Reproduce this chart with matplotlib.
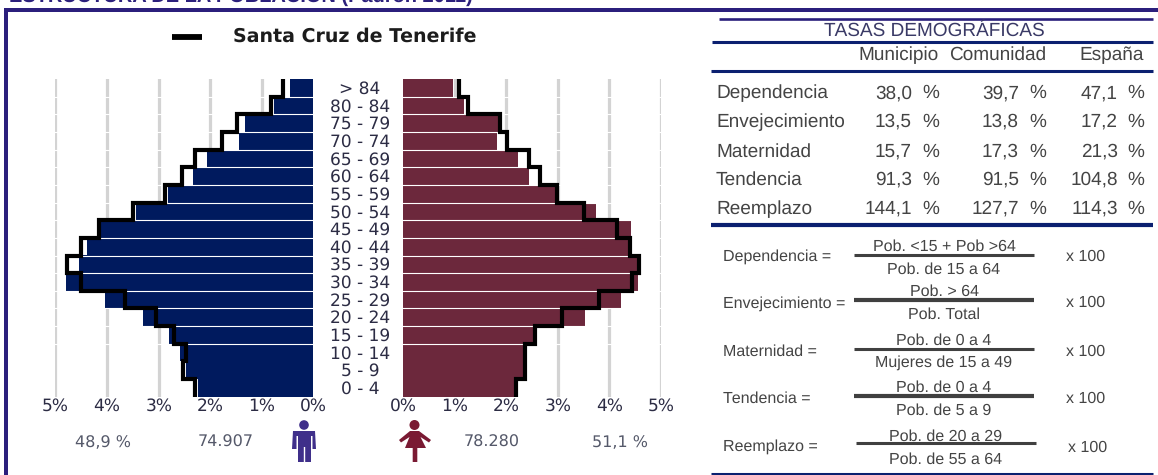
import matplotlib
matplotlib.use("Agg")
import matplotlib.pyplot as plt
from matplotlib.patches import Polygon, Circle, Rectangle

plt.rcParams['text.hinting'] = 'no_hinting'
plt.rcParams['text.hinting_factor'] = 1

W, H = 1158, 475
SANS = ['Liberation Sans', 'DejaVu Sans']
VERD = ['DejaVu Sans']

# ---------- data ----------
age_labels = ['0 - 4', '5 - 9', '10 - 14', '15 - 19', '20 - 24', '25 - 29', '30 - 34', '35 - 39',
              '40 - 44', '45 - 49', '50 - 54', '55 - 59', '60 - 64', '65 - 69', '70 - 74',
              '75 - 79', '80 - 84', '> 84']
male_muni = [2.24, 2.47, 2.59, 2.80, 3.31, 4.04, 4.80, 4.55, 4.38, 4.12, 3.44, 2.82, 2.33, 2.06, 1.45, 1.33, 0.77, 0.46]
male_ref = [2.29, 2.52, 2.47, 2.70, 3.05, 3.65, 4.51, 4.78, 4.51, 4.15, 3.50, 2.87, 2.55, 2.30, 1.77, 1.48, 0.83, 0.59]
female_muni = [2.15, 2.33, 2.34, 2.52, 3.53, 4.23, 4.56, 4.53, 4.36, 4.41, 3.74, 2.98, 2.44, 2.23, 1.81, 1.84, 1.18, 0.97]
female_ref = [2.19, 2.37, 2.37, 2.55, 3.07, 3.79, 4.44, 4.57, 4.39, 4.15, 3.51, 2.98, 2.65, 2.43, 2.01, 1.88, 1.25, 1.08]
pct_ticks = [0, 1, 2, 3, 4, 5]
pct_labels = ['0%', '1%', '2%', '3%', '4%', '5%']

legend_name = 'Santa Cruz de Tenerife'
title_text = 'ESTRUCTURA DE LA POBLACIÓN (Padrón 2011)'
male_pct, male_count = '48,9 %', '74.907'
female_pct, female_count = '51,1 %', '78.280'

table_title = 'TASAS DEMOGRÁFICAS'
table_cols = ['Municipio', 'Comunidad', 'España']
table_rows = ['Dependencia', 'Envejecimiento', 'Maternidad', 'Tendencia', 'Reemplazo']
muni_rates = ['38,0', '13,5', '15,7', '91,3', '144,1']
comu_rates = ['39,7', '13,8', '17,3', '91,5', '127,7']
espa_rates = ['47,1', '17,2', '21,3', '104,8', '114,3']

formula_names = ['Dependencia =', 'Envejecimiento =', 'Maternidad =', 'Tendencia =', 'Reemplazo =']
formula_nums = ['Pob. <15 + Pob >64', 'Pob. > 64', 'Pob. de 0 a 4', 'Pob. de 0 a 4', 'Pob. de 20 a 29']
formula_dens = ['Pob. de 15 a 64', 'Pob. Total', 'Mujeres de 15 a 49', 'Pob. de 5 a 9', 'Pob. de 55 a 64']

# ---------- colours ----------
NAVY = '#001a5e'
WINE = '#6c283c'
GRID = '#d3d3d3'
FRAME = '#2b1f7c'
TXT = '#444444'
AXT = '#2c2c44'

fig = plt.figure(figsize=(W / 100, H / 100), dpi=100, facecolor='white')

# full-figure layout axes in pixels, y down
bg = fig.add_axes([0, 0, 1, 1], zorder=0)
bg.set_xlim(0, W); bg.set_ylim(H, 0); bg.axis('off')

TOP, BOTTOM = 79.0, 396.7


def pyramid(x0, x1, muni, ref, color, invert):
    ax = fig.add_axes([x0 / W, 1 - BOTTOM / H, (x1 - x0) / W, (BOTTOM - TOP) / H], zorder=2)
    ax.patch.set_alpha(0)
    pos = list(range(len(muni)))
    ax.set_xlim(5, 0) if invert else ax.set_xlim(0, 5)
    ax.set_ylim(-0.5, len(muni) - 0.5)
    for t in pct_ticks:
        ax.axvline(t, color=GRID, lw=2.3, zorder=1)
    ax.barh(pos, muni, height=1.0, color=color, lw=0, zorder=2)
    for k in pos[2:-1]:
        ax.axhline(k + 0.5, color='white', lw=0.8, zorder=3)
    # stepped outline
    xs, ys = [], []
    for k, v in enumerate(ref):
        xs += [v, v]
        ys += [k - 0.5, k + 0.5]
    ax.plot(xs, ys, color='black', lw=3.0, solid_joinstyle='miter', solid_capstyle='butt', zorder=4, clip_on=False)
    ax.set_xticks(pct_ticks, pct_labels, fontsize=12, color=AXT, family=VERD)
    ax.set_yticks([])
    ax.tick_params(axis='x', length=0, pad=1)
    for s in ax.spines.values():
        s.set_visible(False)
    return ax


ax_m = pyramid(55.5, 313.5, male_muni, male_ref, NAVY, True)
ax_f = pyramid(403.3, 661, female_muni, female_ref, WINE, False)

# age labels in the central gutter
for k, lab in enumerate(age_labels):
    y = BOTTOM - (k + 0.5) * (BOTTOM - TOP) / len(age_labels) + 5.9
    bg.text(360, y, lab, ha='center', va='baseline', fontsize=12, color=AXT, family=VERD)

# frame and clipped page title
bg.add_patch(Rectangle((4, 8), W, 4, color=FRAME, lw=0))
bg.add_patch(Rectangle((4, 8), 4.3, H, color=FRAME, lw=0))
bg.text(9, 2, title_text, ha='left', va='baseline', fontsize=14.6, weight='bold', color=FRAME, family=SANS)

# legend
bg.plot([172, 201.5], [36.5, 36.5], color='black', lw=4.2, solid_capstyle='butt')
bg.text(233, 42, legend_name, ha='left', va='baseline', fontsize=13.8, weight='bold', color='#1c1c1c', family=VERD)

# totals
for x, s in [(103, male_pct), (226, male_count), (492, female_count), (620, female_pct)]:
    bg.text(x, 446.7, s, ha='center', va='baseline', fontsize=11.4, color='#55596a', family=VERD)

# man icon
MAN = '#3f2f8a'
bg.add_patch(Circle((304, 425), 4.8, color=MAN, lw=0))
bg.add_patch(Polygon([(293, 431), (315, 431), (316, 449), (312.5, 449), (312.5, 436), (311, 436), (311, 462),
                      (305.2, 462), (305.2, 447), (303.8, 447), (303.8, 462), (298, 462), (298, 436),
                      (296.5, 436), (296.5, 449), (292, 449)], color=MAN, lw=0))
# woman icon
WOM = '#7a1a33'
bg.add_patch(Circle((414.5, 425), 5, color=WOM, lw=0))
bg.add_patch(Polygon([(410, 431), (419, 431), (431, 440), (429, 442.5), (420.5, 437), (426, 448), (417.3, 448), (417.3, 462),
                      (412.7, 462), (412.7, 448), (405, 448), (409.5, 437), (401, 442.5), (399, 440)], color=WOM, lw=0))

# table rules
for x0, y, lw, c in [(719, 19, 1.9, FRAME), (712, 42, 2.2, '#0b2070'), (711, 71, 2.2, '#0b2070'), (711, 225, 3.0, '#0b2070'), (711, 474.3, 2.2, '#0b2070')]:
    bg.plot([x0, 1153], [y, y], color=c, lw=lw, solid_capstyle='butt')

FS = 13.4
bg.text(934, 36, table_title, ha='center', va='baseline', fontsize=FS, color='#3a3a66', family=SANS)
for x, s in zip([939, 1046, 1144], table_cols):
    bg.text(x, 60, s, ha='right', va='baseline', fontsize=FS, color=TXT, family=SANS)

row_y = [98.3, 126.7, 156.7, 185, 214]
for y, name, a, b, c in zip(row_y, table_rows, muni_rates, comu_rates, espa_rates):
    bg.text(716, y, name, ha='left', va='baseline', fontsize=FS, color=TXT, family=SANS)
    for xn, xp, v in [(912, 939, a), (1019, 1046, b), (1118, 1144, c)]:
        bg.text(xn, y, v, ha='right', va='baseline', fontsize=FS, color=TXT, family=SANS)
        bg.text(xp, y, '%', ha='right', va='baseline', fontsize=FS, color=TXT, family=SANS)

# formulae
FF = 11.4
fy = [254.7, 300.3, 348.7, 396, 442.7]
fx = [(854, 1034), (854, 1034), (854, 1034), (854, 1034), (855.7, 1036)]
fl = [2.2, 3.0, 2.2, 3.0, 2.2]
name_y = [260.7, 308, 356, 402.7, 450.7]
num_y = [250.7, 295.7, 345, 391.7, 440.7]
den_y = [274.3, 319.3, 366.7, 415, 464]
xy = [260.7, 307.3, 356, 402.7, 451.7]
for i, nm in enumerate(formula_names):
    x0, x1 = fx[i]
    bg.plot([x0, x1], [fy[i], fy[i]], color='#404040', lw=fl[i], solid_capstyle='butt')
    bg.text(723, name_y[i], nm, ha='left', va='baseline', fontsize=FF, color=TXT, family=SANS)
    bg.text((x0 + x1) / 2, num_y[i], formula_nums[i], ha='center', va='baseline', fontsize=FF, color=TXT, family=SANS)
    bg.text((x0 + x1) / 2, den_y[i], formula_dens[i], ha='center', va='baseline', fontsize=FF, color=TXT, family=SANS)
    bg.text(1066.5 + (2 if i == 4 else 0), xy[i], 'x 100', ha='left', va='baseline', fontsize=FF, color=TXT, family=SANS)

fig.savefig('out.png', dpi=100, facecolor='white')
